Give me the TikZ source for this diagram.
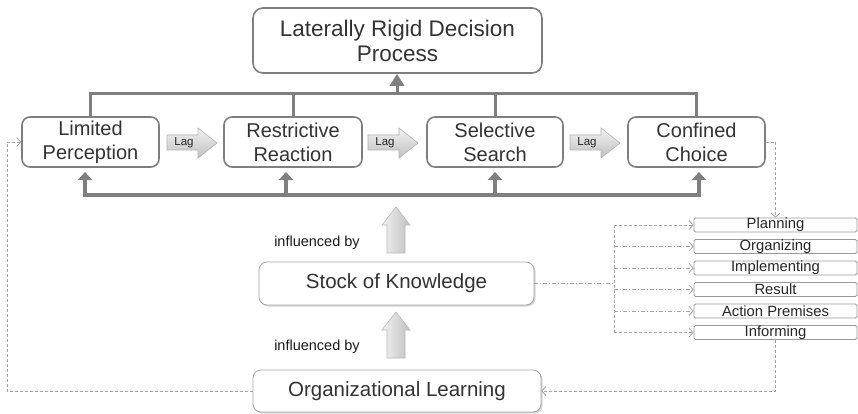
\documentclass[tikz,border=0pt]{standalone}
\usepackage{fontspec}
\setmainfont{Liberation Sans}
\usetikzlibrary{arrows.meta,shadows,calc}
\definecolor{linegray}{HTML}{7F7F7F}
\definecolor{dashgray}{HTML}{A6A6A6}
\definecolor{txt}{HTML}{333333}
\begin{document}
\begin{tikzpicture}[x=1pt,y=-1pt,
  rowbox/.style={draw=linegray, line width=1.6pt, rounded corners=8pt, fill=white, inner sep=0pt, align=center, text=txt, font=\fontsize{20}{24}\selectfont},
  softbox/.style={draw=gray!70, line width=0.8pt, rounded corners=8pt, fill=white, inner sep=0pt, align=center, text=txt,
     drop shadow={shadow xshift=1.5pt, shadow yshift=-1.5pt, opacity=0.35}},
  smallbox/.style={draw=gray!80, line width=0.8pt, rounded corners=1.5pt, fill=white, inner sep=0pt, minimum width=163pt, minimum height=14pt, text=black!85, font=\fontsize{14.8}{15}\selectfont},
  bar/.style={draw=linegray, line width=3pt},
  uparr/.style={draw=linegray, line width=4pt, -{Triangle[width=14pt,length=8pt]}},
  loopline/.style={draw=dashgray, line width=0.8pt, dashed, dash pattern=on 3pt off 2pt},
  dotline/.style={draw=dashgray, line width=0.8pt, dash pattern=on 4pt off 2pt on 1pt off 2pt},
  openhead/.style={-{Straight Barb[length=4pt,width=9pt,line width=0.8pt]}},
  lagtext/.style={inner sep=0pt, text=black!85, font=\fontsize{11.5}{12}\selectfont},
  inftext/.style={inner sep=0pt, text=black!90, font=\fontsize{14.5}{16}\selectfont}
]
\useasboundingbox (0,0) rectangle (858,414);
\fill[white] (0,0) rectangle (858,414);

% top box
\node[rowbox, rounded corners=10pt, minimum width=289pt, minimum height=65pt, font=\fontsize{22.5}{25}\selectfont] (top) at (397.5,40.5) {Laterally Rigid Decision\\Process};

% row boxes
\node[rowbox, minimum width=137pt, minimum height=50pt] (lp) at (90.5,142) {Limited\\Perception};
\node[rowbox, minimum width=138pt, minimum height=50pt] (rr) at (293,142) {Restrictive\\Reaction};
\node[rowbox, minimum width=136pt, minimum height=50pt] (ss) at (495,142) {Selective\\Search};
\node[rowbox, minimum width=137pt, minimum height=50pt] (cc) at (696.5,142) {Confined\\Choice};

% top connector bar
\coordinate (tb) at (397,94);
\draw[bar, line cap=rect] (lp.north) |- (cc.north |- tb) -- (cc.north);
\draw[bar] (rr.north) -- (rr.north |- tb);
\draw[bar] (ss.north) -- (ss.north |- tb);
\draw[draw=linegray, line width=3pt, -{Triangle[width=14pt,length=12pt]}] (tb) -- (top.south -| tb);

% bottom bar with arrows
\coordinate (bb) at (397,195);
\draw[draw=linegray, line width=4pt] (83,195) -- (701,195);
\foreach \xx in {85,286,495,699}{
  \draw[uparr] (\xx,197) -- (\xx,172);
}

% Lag arrows
\foreach \x/\nm in {167/lag1,368/lag2,570/lag3}{
  \shade[top color=gray!10, bottom color=gray!50, draw=gray!60, line width=0.6pt]
    (\x,135) -- (\x+31,135) -- (\x+31,128) -- (\x+50,143) -- (\x+31,158) -- (\x+31,150) -- (\x,150) -- cycle;
  \node[lagtext] (\nm) at (\x+17,142.5) {Lag};
}

% influenced-by block arrows
\foreach \y/\nm in {207/ia1,312/ia2}{
  \shade[left color=gray!10, right color=gray!50, draw=gray!55, line width=0.6pt]
    (396,\y) -- (410,\y+18) -- (405,\y+18) -- (405,\y+46) -- (387,\y+46) -- (387,\y+18) -- (382,\y+18) -- cycle;
}
\node[inftext] (inf1) at (317,243) {influenced by};
\node[inftext] (inf2) at (317,347) {influenced by};

% soft boxes
\node[softbox, minimum width=275pt, minimum height=43pt, font=\fontsize{20.5}{24}\selectfont] (sk) at (396.5,283.5) {Stock of Knowledge};
\node[softbox, minimum width=288pt, minimum height=42pt, font=\fontsize{20.5}{24}\selectfont] (ol) at (397,391) {Organizational Learning};

% small boxes
\node[smallbox] (pl) at (775.5,225) {Planning};
\node[smallbox] (or) at (775.5,246.5) {Organizing};
\node[smallbox] (im) at (775.5,268) {Implementing};
\node[smallbox] (re) at (775.5,289.5) {Result};
\node[smallbox] (ap) at (775.5,311) {Action Premises};
\node[smallbox] (in) at (775.5,332.5) {Informing};

% branching from stock of knowledge
\coordinate (br) at (614,283.5);
\draw[dotline] (sk.east) -- (br);
\draw[loopline] (614,225) -- (614,332.5);
\draw[loopline, openhead] (614,225) -- (pl.west);
\draw[dotline, openhead] (614,246.5) -- (or.west);
\draw[dotline, openhead] (614,268) -- (im.west);
\draw[dotline, openhead] (614,289.5) -- (re.west);
\draw[dotline, openhead] (614,311) -- (ap.west);
\draw[loopline, openhead] (614,332.5) -- (in.west);

% feedback loops
\draw[loopline, openhead] (cc.east) -| (pl.north);
\draw[loopline, openhead] (in.south) |- (ol.east);
\draw[loopline, openhead] (ol.west) -- (7,391) -- (7,142) -- (lp.west);
\end{tikzpicture}
\end{document}
